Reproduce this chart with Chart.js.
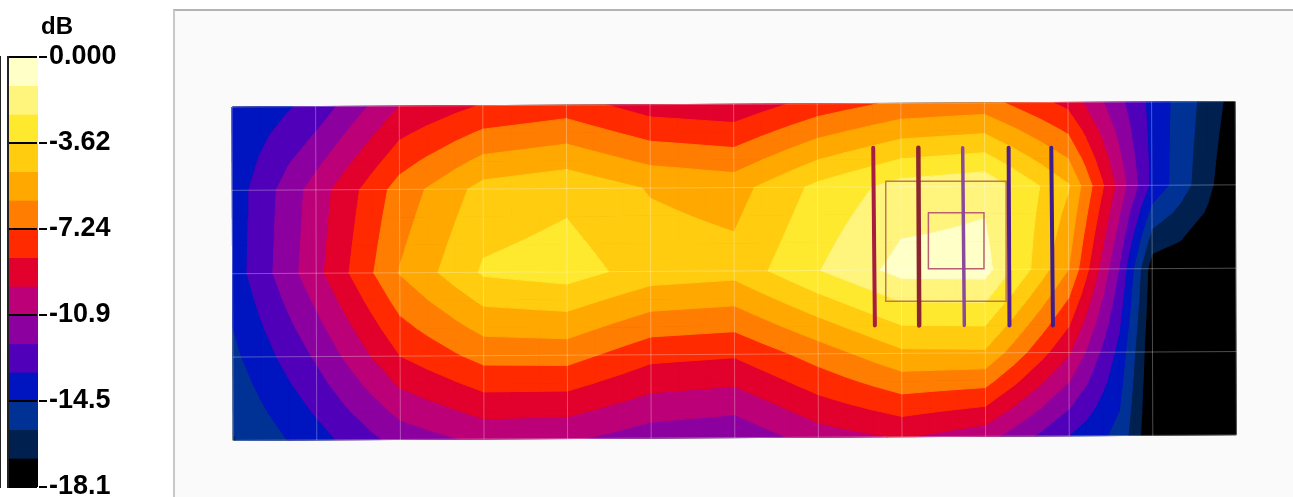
<!DOCTYPE html>
<html lang="en">
<head>
    <meta charset="UTF-8">
    <title>dB field</title>
    <script src="https://cdn.jsdelivr.net/npm/chart.js"></script>
    <style>
        html, body { margin: 0; padding: 0; background: #fff; overflow: hidden; }
        #scaleBox { position: absolute; left: 0; top: 0; width: 172px; height: 512px; filter: blur(0.5px); }
        #unit { position: absolute; left: 41px; top: 12px; font: bold 24px "Liberation Sans", Arial, sans-serif; color: #000; filter: blur(0.4px); }
        #plotBox { position: absolute; left: 173px; top: 9px; width: 1120px; height: 488px; background: #fafafa;
                   border-left: 2px solid #c8c8c8; border-top: 2px solid #b4b4b4; box-sizing: border-box; }
        #plotBox canvas { filter: blur(0.6px); }
    </style>
</head>
<body>
    <div id="plotBox"><canvas id="fieldChart"></canvas></div>
    <div id="scaleBox"><canvas id="scaleChart"></canvas></div>
    <div id="unit">dB</div>

    <script>
        // colour scale, top to bottom
        const bandColors = ["#FFFFC8", "#FFF47C", "#FFE92E", "#FFCC10", "#FFA800", "#FF7D00", "#FF2A00", "#E2002C",
                            "#BC0078", "#8C00A0", "#5000B8", "#0014C0", "#003296", "#002050", "#000000"];
        const scaleMin = -18.1;
        const tickValues = [0, -3.62, -7.24, -10.86, -14.48, -18.1];
        const tickLabels = ["0.000", "-3.62", "-7.24", "-10.9", "-14.5", "-18.1"];

        // field in dB on the measurement mesh (extra column at 10.6 where the falloff is steep)
        const meshCols = [0, 1, 2, 3, 4, 5, 6, 7, 8, 9, 10, 10.6, 11, 12];
        const row0 = [-14.48, -12.85, -9.65, -8.36, -7.88, -9.05, -9.33, -7.96, -7.00, -6.76, -8.81, -11.70, -13.64, -17.44];
        const row1 = [-14.00, -10.32, -6.73, -4.40, -3.92, -4.92, -5.31, -3.32, -1.93, -1.51, -4.71, -10.02, -13.58, -18.1];
        const row2 = [-13.94, -10.05, -5.97, -3.46, -3.08, -4.16, -4.40, -2.47, -0.78, -0.72, -6.03, -12.07, -17.62, -18.1];
        const row3 = [-14.78, -11.89, -8.45, -6.82, -6.76, -8.08, -8.30, -6.70, -5.07, -5.01, -9.53, -13.64, -17.98, -18.1];
        const row4 = [-15.77, -13.76, -11.58, -10.56, -10.68, -11.52, -11.83, -10.26, -9.53, -10.38, -13.27, -14.84, -18.1, -18.1];
        const field = [row0, row1, row2, row3, row4];

        // probe outlines, in mesh units
        const stripCols = [[7.67, 7.69], [8.21, 8.22], [8.74, 8.76], [9.29, 9.30], [9.80, 9.82]];
        const stripRows = [0.49, 2.62];
        const stripColors = ["#A81C40", "#8C2430", "#8A4A9C", "#50208C", "#3C1E8C"];
        const stripWidths = [4, 4.5, 3.5, 4, 4];
        const outerSquare = { cols: [7.82, 9.26], rows: [0.89, 2.33] };
        const innerSquare = { cols: [8.33, 8.995], rows: [1.27, 1.94] };

        const step = -scaleMin / bandColors.length;
        const nRows = field.length;
        const subdiv = 3;

        // picture is slightly tilted
        const node = (c, r) => ({ x: c + r * 0.0036, y: r - c * 0.0055 });

        function clip(poly, level, keepAbove) {
            const out = [];
            poly.forEach((p, i) => {
                const q = poly[(i + 1) % poly.length];
                const pIn = keepAbove ? p.v >= level : p.v <= level;
                const qIn = keepAbove ? q.v >= level : q.v <= level;
                if (pIn) out.push(p);
                if (pIn !== qIn) {
                    const t = (level - p.v) / (q.v - p.v);
                    out.push({ x: p.x + t * (q.x - p.x), y: p.y + t * (q.y - p.y), v: level });
                }
            });
            return out;
        }

        // small quads inside each mesh cell, values bilinear between the four corners
        function meshQuads() {
            const quads = [];
            for (let r = 0; r < nRows - 1; r++) {
                for (let i = 0; i < meshCols.length - 1; i++) {
                    const c0 = meshCols[i], c1 = meshCols[i + 1];
                    const at = (s, t) => {
                        const v = (1 - t) * ((1 - s) * field[r][i] + s * field[r][i + 1]) + t * ((1 - s) * field[r + 1][i] + s * field[r + 1][i + 1]);
                        return { ...node(c0 + s * (c1 - c0), r + t), v };
                    };
                    for (let a = 0; a < subdiv; a++) {
                        for (let b = 0; b < subdiv; b++) {
                            const s0 = a / subdiv, s1 = (a + 1) / subdiv, t0 = b / subdiv, t1 = (b + 1) / subdiv;
                            quads.push([at(s0, t0), at(s1, t0), at(s1, t1), at(s0, t1)]);
                        }
                    }
                }
            }
            return quads;
        }

        const polyDataset = (points, color) => ({
            data: points.concat([points[0]]).map(p => ({ x: p.x, y: p.y })),
            showLine: true, fill: "shape", backgroundColor: color, borderColor: color, borderWidth: 1,
            pointRadius: 0, tension: 0
        });
        const lineDataset = (points, color, width) => ({
            data: points, showLine: true, fill: false, borderColor: color, borderWidth: width,
            pointRadius: 0, tension: 0, borderCapStyle: "round"
        });
        const square = s => [
            { x: s.cols[0], y: s.rows[0] }, { x: s.cols[1], y: s.rows[0] }, { x: s.cols[1], y: s.rows[1] },
            { x: s.cols[0], y: s.rows[1] }, { x: s.cols[0], y: s.rows[0] }
        ];

        // last dataset is painted first, so collect bottom layer first and reverse at the end
        const layers = [];
        layers.push(polyDataset([node(0, 0), node(12, 0), node(12, 4), node(0, 4)], bandColors[bandColors.length - 1]));
        const quads = meshQuads();
        for (let k = bandColors.length - 2; k >= 0; k--) {
            const hi = -k * step, lo = -(k + 1) * step;
            quads.forEach(q => {
                let p = clip(q, lo, true);
                if (p.length) p = clip(p, hi, false);
                if (p.length > 2) layers.push(polyDataset(p, bandColors[k]));
            });
        }
        for (let c = 0; c <= 12; c++) {
            layers.push(lineDataset([node(c, 0), node(c, nRows - 1)], "rgba(255,255,255,0.3)", 1));
        }
        for (let r = 0; r < nRows; r++) {
            layers.push(lineDataset([node(0, r), node(12, r)], "rgba(255,255,255,0.3)", 1));
        }
        layers.push(lineDataset(square(outerSquare), "#C07850", 1.5));
        layers.push(lineDataset(square(innerSquare), "#B86070", 1.5));
        stripCols.forEach((cols, i) => {
            layers.push(lineDataset([{ x: cols[0], y: stripRows[0] }, { x: cols[1], y: stripRows[1] }], stripColors[i], stripWidths[i]));
        });

        // plot area of the box: column 0 at x=232, row 0 at y=107 on the page
        const colPx = 83.6, rowPx = 83.35, boxLeft = 175, boxTop = 11, boxW = 1118, boxH = 486;
        new Chart(document.getElementById("fieldChart"), {
            type: "scatter",
            data: { datasets: layers.reverse() },
            options: {
                responsive: true, maintainAspectRatio: false, animation: false, events: [],
                layout: { padding: 0, autoPadding: false },
                plugins: { legend: { display: false }, tooltip: { enabled: false } },
                scales: {
                    x: { type: "linear", display: false, min: (boxLeft - 232) / colPx, max: (boxLeft + boxW - 232) / colPx },
                    y: { type: "linear", display: false, reverse: true, min: (boxTop - 107) / rowPx, max: (boxTop + boxH - 107) / rowPx }
                }
            }
        });

        new Chart(document.getElementById("scaleChart"), {
            type: "bar",
            data: {
                labels: ["dB"],
                datasets: bandColors.map(color => ({ data: [-step], backgroundColor: color, barPercentage: 1, categoryPercentage: 1, stack: "s" }))
            },
            options: {
                responsive: true, maintainAspectRatio: false, animation: false, events: [],
                layout: { padding: { left: 8, top: 57, bottom: 25, right: 0 }, autoPadding: false },
                plugins: { legend: { display: false }, tooltip: { enabled: false } },
                scales: {
                    x: { display: false, stacked: true },
                    y: {
                        position: "right", min: scaleMin, max: 0, stacked: true,
                        afterFit: s => { s.width = 134; },
                        afterBuildTicks: s => { s.ticks = tickValues.map(value => ({ value })); },
                        ticks: {
                            autoSkip: false, padding: 2, color: "#000",
                            font: { family: "'Liberation Sans', Arial, sans-serif", size: 27, weight: "bold" },
                            callback: (v, i) => tickLabels[i]
                        },
                        grid: { color: "#000", lineWidth: 2, tickLength: 9, z: 1 },
                        border: { color: "#222", width: 2 }
                    },
                    frame: {
                        type: "linear", position: "left", min: 0, max: 1, afterFit: s => { s.width = 0; },
                        ticks: { display: false }, grid: { display: false }, border: { color: "#222", width: 2, z: 1 }
                    }
                }
            }
        });
    </script>
</body>
</html>
